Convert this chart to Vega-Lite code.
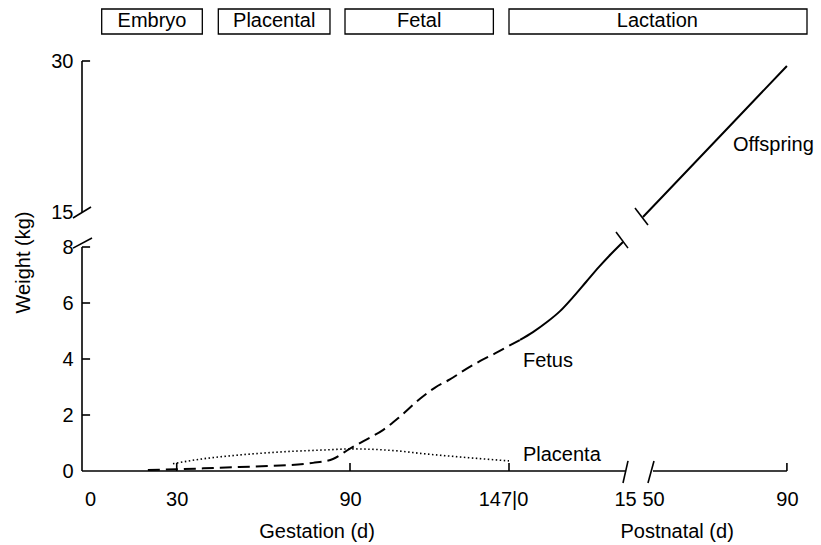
{
  "$schema": "https://vega.github.io/schema/vega-lite/v6.json",
  "width": 725,
  "height": 462,
  "autosize": {"type": "none"},
  "padding": {"left": 82, "top": 9, "right": 14, "bottom": 74},
  "background": "white",
  "config": {"view": {"stroke": null}, "font": "Liberation Sans"},
  "datasets": {
    "curves": [
      {"series": "Fetus", "stage": "gestation", "t": 20.0, "w": 0.04},
      {"series": "Fetus", "stage": "gestation", "t": 30, "w": 0.06},
      {"series": "Fetus", "stage": "gestation", "t": 45, "w": 0.12},
      {"series": "Fetus", "stage": "gestation", "t": 62.3, "w": 0.18},
      {"series": "Fetus", "stage": "gestation", "t": 77.2, "w": 0.29},
      {"series": "Fetus", "stage": "gestation", "t": 84.1, "w": 0.43},
      {"series": "Fetus", "stage": "gestation", "t": 90, "w": 0.8},
      {"series": "Fetus", "stage": "gestation", "t": 95, "w": 1.08},
      {"series": "Fetus", "stage": "gestation", "t": 101.8, "w": 1.46},
      {"series": "Fetus", "stage": "gestation", "t": 107.9, "w": 1.94},
      {"series": "Fetus", "stage": "gestation", "t": 115.1, "w": 2.58},
      {"series": "Fetus", "stage": "gestation", "t": 120.5, "w": 2.98},
      {"series": "Fetus", "stage": "gestation", "t": 125.8, "w": 3.27},
      {"series": "Fetus", "stage": "gestation", "t": 131, "w": 3.6},
      {"series": "Fetus", "stage": "gestation", "t": 136.7, "w": 3.93},
      {"series": "Fetus", "stage": "gestation", "t": 142, "w": 4.2},
      {"series": "Fetus", "stage": "gestation", "t": 147, "w": 4.47},
      {"series": "Fetus", "stage": "gestation", "t": 148.42, "w": 4.68},
      {"series": "Fetus", "stage": "postnatal", "t": 148.42, "w": 4.68},
      {"series": "Fetus", "stage": "postnatal", "t": 150.1, "w": 4.96},
      {"series": "Fetus", "stage": "postnatal", "t": 151.91, "w": 5.32},
      {"series": "Fetus", "stage": "postnatal", "t": 153.6, "w": 5.71},
      {"series": "Fetus", "stage": "postnatal", "t": 155.28, "w": 6.21},
      {"series": "Fetus", "stage": "postnatal", "t": 156.96, "w": 6.75},
      {"series": "Fetus", "stage": "postnatal", "t": 158.64, "w": 7.29},
      {"series": "Fetus", "stage": "postnatal", "t": 160.19, "w": 7.75},
      {"series": "Fetus", "stage": "postnatal", "t": 161.74, "w": 8.18},
      {"series": "Placenta", "stage": "gestation", "t": 28.7, "w": 0.26},
      {"series": "Placenta", "stage": "gestation", "t": 38, "w": 0.42},
      {"series": "Placenta", "stage": "gestation", "t": 48.4, "w": 0.54},
      {"series": "Placenta", "stage": "gestation", "t": 65.8, "w": 0.68},
      {"series": "Placenta", "stage": "gestation", "t": 83.1, "w": 0.76},
      {"series": "Placenta", "stage": "gestation", "t": 90, "w": 0.79},
      {"series": "Placenta", "stage": "gestation", "t": 107.9, "w": 0.71},
      {"series": "Placenta", "stage": "gestation", "t": 115.1, "w": 0.63},
      {"series": "Placenta", "stage": "gestation", "t": 129.5, "w": 0.5},
      {"series": "Placenta", "stage": "gestation", "t": 147, "w": 0.36},
      {"series": "Offspring", "stage": "postnatal", "t": 194, "w": 14.3},
      {"series": "Offspring", "stage": "postnatal", "t": 200, "w": 16.59},
      {"series": "Offspring", "stage": "postnatal", "t": 220, "w": 23.57},
      {"series": "Offspring", "stage": "postnatal", "t": 237, "w": 29.5}
    ],
    "notes": [
      {"text": "Offspring", "t": 220.9, "w": 21.66},
      {"text": "Fetus", "t": 148.8, "w": 3.93},
      {"text": "Placenta", "t": 148.8, "w": 0.57}
    ],
    "axisTitles": [
      {"text": "Gestation (d)", "t": 78.6, "w": -2.18},
      {"text": "Postnatal (d)", "t": 204.2, "w": -2.18}
    ],
    "phases": [
      {"phase": "Embryo", "start": 4.02, "end": 38.86, "mid": 21.44},
      {"phase": "Placental", "start": 44.4, "end": 83.07, "mid": 63.75},
      {"phase": "Fetal", "start": 88.27, "end": 141.4, "mid": 114.8},
      {"phase": "Lactation", "start": 147, "end": 243, "mid": 198.3}
    ],
    "frame": [
      {"x1": -2.8, "x2": -2.8, "y1": 0, "y2": 8},
      {"x1": -2.8, "x2": -2.8, "y1": 15, "y2": 30},
      {"x1": -2.8, "x2": 0, "y1": 2, "y2": 2},
      {"x1": -2.8, "x2": 0, "y1": 4, "y2": 4},
      {"x1": -2.8, "x2": 0, "y1": 6, "y2": 6},
      {"x1": -2.8, "x2": 0, "y1": 8, "y2": 8},
      {"x1": -2.8, "x2": 0, "y1": 30, "y2": 30},
      {"x1": -5.92, "x2": 0.32, "y1": 13.98, "y2": 15.5},
      {"x1": -5.92, "x2": 0.66, "y1": 7.96, "y2": 8.32},
      {"x1": -2.8, "x2": 162, "y1": 0, "y2": 0},
      {"x1": 197, "x2": 237, "y1": 0, "y2": 0},
      {"x1": 30, "x2": 30, "y1": 0, "y2": 0.29},
      {"x1": 90, "x2": 90, "y1": 0, "y2": 0.29},
      {"x1": 147, "x2": 147, "y1": 0, "y2": 0.29},
      {"x1": 237, "x2": 237, "y1": 0, "y2": 0.29},
      {"x1": 161.74, "x2": 168.4, "y1": -0.43, "y2": 0.36},
      {"x1": 195.5, "x2": 197.3, "y1": -0.43, "y2": 0.36},
      {"x1": 160.84, "x2": 168.37, "y1": 9.59, "y2": 7.96},
      {"x1": 183.2, "x2": 195.5, "y1": 15.4, "y2": 11.79}
    ]
  },
  "layer": [
    {
      "data": {"name": "curves"},
      "transform": [{"filter": "datum.series === 'Fetus' && datum.stage === 'gestation'"}],
      "mark": {"type": "line", "color": "black", "strokeWidth": 2, "strokeDash": [12, 6], "interpolate": "monotone"},
      "encoding": {
        "x": {
          "field": "t", "type": "quantitative",
          "scale": {"domain": [-2.8, 90, 147, 162, 193, 197, 243], "range": [0, 268, 427, 543, 557.6, 571, 725], "nice": false, "zero": false},
          "axis": {
            "values": [0, 30, 90, 147, 162, 197, 237],
            "labelExpr": "datum.value == 147 ? '147|0' : (datum.value > 147 ? format(datum.value - 147, 'd') : format(datum.value, 'd'))",
            "ticks": false, "domain": false, "grid": false,
            "labelFont": "Liberation Sans", "labelFontSize": 20, "labelColor": "black",
            "labelPadding": 18, "labelOverlap": false, "labelFlush": false, "labelBound": false,
            "labelOffset": {"condition": {"test": "datum.value == 147", "value": -6}, "value": 0},
            "title": null
          }
        },
        "y": {
          "field": "w", "type": "quantitative",
          "scale": {"domain": [0, 8.4, 14.6, 30, 35.16], "range": [462, 226.8, 207.03, 52, 0], "nice": false, "zero": false},
          "axis": {
            "values": [0, 2, 4, 6, 8, 15, 30],
            "ticks": false, "domain": false, "grid": false,
            "labelFont": "Liberation Sans", "labelFontSize": 20, "labelColor": "black",
            "labelPadding": 9, "labelOverlap": false, "labelFlush": false, "labelBound": false,
            "title": "Weight (kg)", "titleFont": "Liberation Sans", "titleFontSize": 20, "titleFontWeight": "normal", "titleColor": "black",
            "titleX": -59, "titleY": 253, "titleAngle": -90, "titleAlign": "center", "titleBaseline": "middle"
          }
        }
      }
    },
    {
      "data": {"name": "curves"},
      "transform": [{"filter": "datum.series === 'Fetus' && datum.stage === 'postnatal'"}],
      "mark": {"type": "line", "color": "black", "strokeWidth": 2, "interpolate": "monotone"},
      "encoding": {
        "x": {"field": "t", "type": "quantitative"},
        "y": {"field": "w", "type": "quantitative"}
      }
    },
    {
      "data": {"name": "curves"},
      "transform": [{"filter": "datum.series === 'Placenta'"}],
      "mark": {"type": "line", "color": "black", "strokeWidth": 1.6, "strokeDash": [1.5, 2.5], "interpolate": "monotone"},
      "encoding": {
        "x": {"field": "t", "type": "quantitative"},
        "y": {"field": "w", "type": "quantitative"}
      }
    },
    {
      "data": {"name": "curves"},
      "transform": [{"filter": "datum.series === 'Offspring'"}],
      "mark": {"type": "line", "color": "black", "strokeWidth": 2},
      "encoding": {
        "x": {"field": "t", "type": "quantitative"},
        "y": {"field": "w", "type": "quantitative"}
      }
    },
    {
      "data": {"name": "frame"},
      "mark": {"type": "rule", "color": "black", "strokeWidth": 1.6},
      "encoding": {
        "x": {"field": "x1", "type": "quantitative"},
        "x2": {"field": "x2"},
        "y": {"field": "y1", "type": "quantitative"},
        "y2": {"field": "y2"}
      }
    },
    {
      "data": {"name": "phases"},
      "mark": {"type": "rect", "fill": "white", "stroke": "black", "strokeWidth": 1.3},
      "encoding": {
        "x": {"field": "start", "type": "quantitative"},
        "x2": {"field": "end"},
        "y": {"datum": 32.68, "type": "quantitative"},
        "y2": {"datum": 35.16}
      }
    },
    {
      "data": {"name": "phases"},
      "mark": {"type": "text", "font": "Liberation Sans", "fontSize": 20, "color": "black", "align": "center", "baseline": "middle"},
      "encoding": {
        "x": {"field": "mid", "type": "quantitative"},
        "y": {"datum": 33.92, "type": "quantitative"},
        "text": {"field": "phase"}
      }
    },
    {
      "data": {"name": "notes"},
      "mark": {"type": "text", "font": "Liberation Sans", "fontSize": 20, "color": "black", "align": "left", "baseline": "middle"},
      "encoding": {
        "x": {"field": "t", "type": "quantitative"},
        "y": {"field": "w", "type": "quantitative"},
        "text": {"field": "text"}
      }
    },
    {
      "data": {"name": "axisTitles"},
      "mark": {"type": "text", "font": "Liberation Sans", "fontSize": 20, "color": "black", "align": "center", "baseline": "middle"},
      "encoding": {
        "x": {"field": "t", "type": "quantitative"},
        "y": {"field": "w", "type": "quantitative"},
        "text": {"field": "text"}
      }
    }
  ]
}
